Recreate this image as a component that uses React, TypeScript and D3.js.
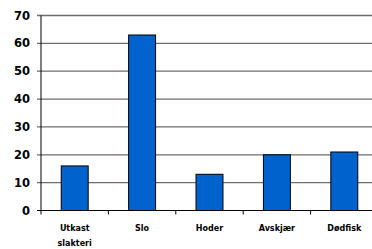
import React, { useEffect, useRef } from 'react';
import * as d3 from 'd3';

const categories: string[][] = [['Utkast', 'slakteri'], ['Slo'], ['Hoder'], ['Avskjær'], ['Dødfisk']];
const values: number[] = [16, 63, 13, 20, 21];
const yTicks: number[] = [0, 10, 20, 30, 40, 50, 60, 70];

const App: React.FC = () => {
    const ref = useRef<SVGSVGElement>(null);
    const width = 372;
    const height = 249;

    useEffect(() => {
        const svg = d3.select(ref.current);
        svg.selectAll('*').remove();

        const keys = categories.map(c => c.join(' '));
        const x = d3.scaleBand()
            .domain(keys)
            .range([41, 378])
            .paddingInner(0.6)
            .paddingOuter(0.3);
        const y = d3.scaleLinear().domain([0, 70]).range([210.5, 15.5]);

        const step = x.step();
        const x0 = 41;

        // grid lines
        svg.append('g')
            .selectAll('line')
            .data(yTicks.filter(t => t > 0))
            .enter()
            .append('line')
            .attr('x1', 37)
            .attr('x2', width)
            .attr('y1', d => y(d))
            .attr('y2', d => y(d))
            .attr('stroke', '#6e6e6e')
            .attr('stroke-width', 1.3);

        // y tick labels
        svg.append('g')
            .selectAll('text')
            .data(yTicks)
            .enter()
            .append('text')
            .attr('x', 30)
            .attr('y', d => y(d))
            .attr('dy', '0.36em')
            .attr('text-anchor', 'end')
            .attr('font-family', 'DejaVu Sans, Verdana, sans-serif')
            .attr('font-weight', 'bold')
            .attr('font-size', 11.5)
            .text(d => d);

        // bars
        svg.append('g')
            .selectAll('rect')
            .data(values)
            .enter()
            .append('rect')
            .attr('x', (_, i) => x(keys[i]) ?? 0)
            .attr('y', d => y(d))
            .attr('width', x.bandwidth())
            .attr('height', d => y(0) - y(d))
            .attr('fill', '#0062CC')
            .attr('stroke', '#000')
            .attr('stroke-width', 1);

        // axes
        svg.append('line')
            .attr('x1', 41).attr('x2', 41)
            .attr('y1', y(70)).attr('y2', y(0))
            .attr('stroke', '#000').attr('stroke-width', 1);
        svg.append('line')
            .attr('x1', 37).attr('x2', width)
            .attr('y1', y(0)).attr('y2', y(0))
            .attr('stroke', '#000').attr('stroke-width', 1);
        svg.append('line')
            .attr('x1', 37).attr('x2', 41)
            .attr('y1', y(0)).attr('y2', y(0))
            .attr('stroke', '#000');

        // x ticks at category boundaries
        svg.append('g')
            .selectAll('line')
            .data(d3.range(keys.length + 1))
            .enter()
            .append('line')
            .attr('x1', i => x0 + i * step)
            .attr('x2', i => x0 + i * step)
            .attr('y1', y(0))
            .attr('y2', y(0) + 4)
            .attr('stroke', '#000');

        // category labels
        const lbl = svg.append('g')
            .selectAll('text')
            .data(categories)
            .enter()
            .append('text')
            .attr('x', (_, i) => (x(keys[i]) ?? 0) + x.bandwidth() / 2)
            .attr('y', 231)
            .attr('text-anchor', 'middle')
            .attr('font-family', 'DejaVu Sans, sans-serif')
            .attr('font-weight', 'bold')
            .attr('font-size', 8);
        lbl.selectAll('tspan')
            .data(d => d)
            .enter()
            .append('tspan')
            .attr('x', function () { return (this.parentNode as SVGTextElement).getAttribute('x'); })
            .attr('dy', (_, j) => (j === 0 ? 0 : 14.5))
            .text(d => d);
    }, []);

    return (
        <svg ref={ref} width={width} height={height}
            style={{ position: 'absolute', left: 0, top: 0, background: '#fff' }} />
    );
};

export default App;
